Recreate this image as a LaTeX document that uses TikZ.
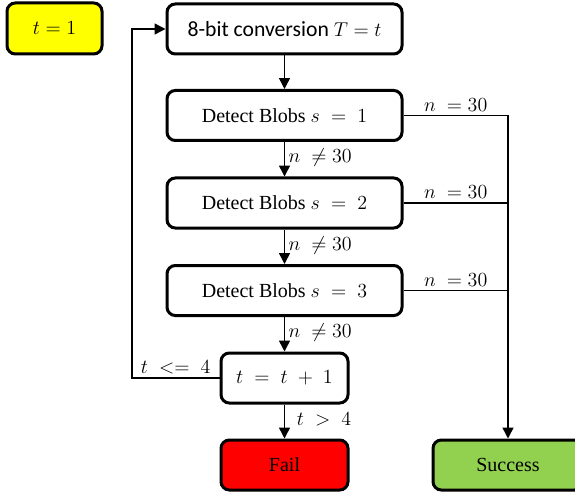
\documentclass[tikz,border=0pt]{standalone}
\usepackage{fontspec}
\setmainfont{Liberation Serif}
\newfontfamily\calibri{Carlito}
\usetikzlibrary{arrows.meta}
\definecolor{initYellow}{RGB}{255,255,0}
\definecolor{failRed}{RGB}{255,0,0}
\definecolor{successGreen}{RGB}{146,208,80}

\begin{document}
\begin{tikzpicture}[x=0.6pt, y=-0.6pt]
    \tikzstyle{block} = [draw, line width=1.8pt, rounded corners=5pt, minimum width=141pt, minimum height=30pt, font=\fontsize{12}{14}\selectfont, align=center]
    \tikzstyle{shortblock} = [block, minimum width=76.2pt]
    \tikzstyle{initblock} = [block, fill=initYellow, minimum width=57pt, minimum height=30.6pt]
    \tikzstyle{failblock} = [shortblock, fill=failRed]
    \tikzstyle{doneblock} = [block, fill=successGreen, minimum width=90pt]
    \tikzstyle{arrow} = [-{Triangle[length=6.5pt, width=6.5pt]}, line width=0.9pt]
    \tikzstyle{line} = [line width=0.9pt]
    \tikzstyle{lbl} = [font=\fontsize{12}{14}\selectfont, inner sep=2pt]

    \useasboundingbox (0,0) rectangle (575,495);
    \clip (0,0) rectangle (575,495);

    % Start
    \node[initblock] (init) at (54.5,28.5) {$t = 1$};

    % Conversion and blob detection
    \node[block] (conv) at (284.5,29) {\calibri\fontsize{13}{15}\selectfont 8-bit conversion $T = t$};
    \node[block] (blob1) at (284.5,115.5) {Detect Blobs $s \;=\; 1$};
    \node[block] (blob2) at (284.5,203) {Detect Blobs $s \;=\; 2$};
    \node[block] (blob3) at (284.5,290.5) {Detect Blobs $s \;=\; 3$};

    % Iteration
    \node[shortblock] (inc) at (284.5,378) {$t \;=\; t \;+\; 1$};

    % Outcomes
    \node[failblock] (fail) at (284.5,465) {Fail};
    \node[doneblock] (done) at (508,465) {Success};

    \coordinate (loopx) at (132,0);

    % Arrows
    \draw[arrow] (conv) -- (blob1);
    \draw[arrow] (blob1) -- node[lbl, right, pos=0.45] {$n \;\neq 30$} (blob2);
    \draw[arrow] (blob2) -- node[lbl, right, pos=0.45] {$n \;\neq 30$} (blob3);
    \draw[arrow] (blob3) -- node[lbl, right, pos=0.45] {$n \;\neq 30$} (inc);
    \draw[arrow] (inc) -- node[lbl, right, pos=0.45, xshift=5pt] {$t \;>\; 4$} (fail);
    \draw[arrow] (blob1.east) -- node[lbl, above] {$n \; = 30$} (blob1.east -| done) -- (done);
    \draw[line] (blob2.east) -- node[lbl, above] {$n \; = 30$} (blob2.east -| done);
    \draw[line] (blob3.east) -- node[lbl, above] {$n \; = 30$} (blob3.east -| done);
    \draw[arrow] (inc.west) -- node[lbl, above] {$t \;<=\; 4$} (inc.west -| loopx) |- (conv.west);
\end{tikzpicture}
\end{document}
